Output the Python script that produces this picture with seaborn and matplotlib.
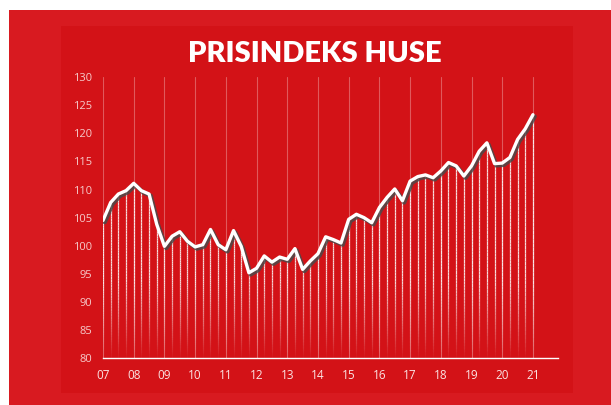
import numpy as np
import pandas as pd
import seaborn as sns
import matplotlib
matplotlib.use("Agg")
import matplotlib.pyplot as plt
import matplotlib.patheffects as pe
from matplotlib.patches import Rectangle
from matplotlib.collections import LineCollection

# ---- data ----
title = "PRISINDEKS HUSE"
start_year = 7
values = [
    104.5, 107.7, 109.2, 109.8,   # 07
    111.1, 109.8, 109.2, 103.8,   # 08
    99.9, 101.7, 102.5, 100.8,    # 09
    99.8, 100.2, 102.9, 100.2,    # 10
    99.3, 102.7, 99.9, 95.2,      # 11
    96.0, 98.2, 97.1, 98.0,       # 12
    97.6, 99.5, 95.8, 97.3,       # 13
    98.6, 101.6, 101.1, 100.5,    # 14
    104.7, 105.6, 105.0, 104.1,   # 15
    106.8, 108.6, 110.1, 108.0,   # 16
    111.5, 112.3, 112.6, 112.1,   # 17
    113.3, 114.8, 114.2, 112.4,   # 18
    114.2, 116.8, 118.3, 114.6,   # 19
    114.7, 115.7, 118.9, 120.8,   # 20
    123.3,                        # 21
]
year_ticks = list(range(7, 22))
year_labels = [f"{y:02d}" for y in year_ticks]
y_ticks = [80, 85, 90, 95, 100, 105, 110, 115, 120, 125, 130]

x = [start_year + i / 4 for i in range(len(values))]
df = pd.DataFrame({"t": x, "v": values})

sns.set_style("white")

# ---- figure ----
W, H = 611, 405
fig = plt.figure(figsize=(W / 100, H / 100), dpi=100, facecolor="white")

def px_rect(x0, y0, x1, y1, color):
    fig.patches.append(Rectangle((x0 / W, 1 - y1 / H), (x1 - x0) / W, (y1 - y0) / H,
                                 transform=fig.transFigure, facecolor=color,
                                 edgecolor="none", zorder=-10))

px_rect(9, 10, W, H, "#d81a20")
px_rect(61, 26, 573, 393, "#d31217")

ax_l, ax_r, ax_t, ax_b = 103, 558, 77, 358.3
ax = fig.add_axes([ax_l / W, 1 - ax_b / H, (ax_r - ax_l) / W, (ax_b - ax_t) / H])
ax.set_facecolor("none")
ax.patch.set_alpha(0)

x_end = 7 + (ax_r - ax_l) / 30.71

# year grid lines
for yx in year_ticks:
    ax.axvline(yx, color="white", alpha=0.3, lw=0.8, zorder=1)

# fading drop lines from each point
segs, cols = [], []
for xi, vi in zip(x, values):
    ys = np.linspace(80, vi, 60)
    for a, b in zip(ys[:-1], ys[1:]):
        segs.append([(xi, a), (xi, b)])
        m = (a + b) / 2
        alpha = np.clip((m - 80) / 14, 0.03, 1.0) * 0.85
        cols.append((1, 1, 1, alpha))
ax.add_collection(LineCollection(segs, colors=cols, linewidths=0.9, zorder=2))

sns.lineplot(data=df, x="t", y="v", ax=ax, color="white", lw=2.4, zorder=4,
             path_effects=[pe.SimpleLineShadow(offset=(1.3, -1.3), shadow_color="#4a4a4a",
                                               alpha=0.85, linewidth=3.0),
                           pe.Normal()])
ax.set_xlabel("")
ax.set_ylabel("")
ax.set_xlim(7, x_end)
ax.set_ylim(80, 130)

ax.set_xticks(year_ticks)
ax.set_xticklabels(year_labels)
ax.set_yticks(y_ticks)
ax.set_yticklabels([str(v) for v in y_ticks])

for s in ["top", "right", "left"]:
    ax.spines[s].set_visible(False)
ax.spines["bottom"].set_color("white")
ax.spines["bottom"].set_linewidth(1.0)
ax.tick_params(axis="x", colors="white", length=4, width=1, direction="out",
               labelsize=8.5, pad=4, labelcolor="#fbe3e3")
ax.tick_params(axis="y", length=0, labelsize=8, pad=8, labelcolor="#f6caca")
for lab in ax.get_xticklabels() + ax.get_yticklabels():
    lab.set_fontfamily("Open Sans")

fig.text(315 / W, 1 - 54 / H, title, ha="center", va="center", color="white",
         fontsize=21, fontweight="heavy", family="Lato")

fig.savefig("out.png", dpi=100, facecolor=fig.get_facecolor())
